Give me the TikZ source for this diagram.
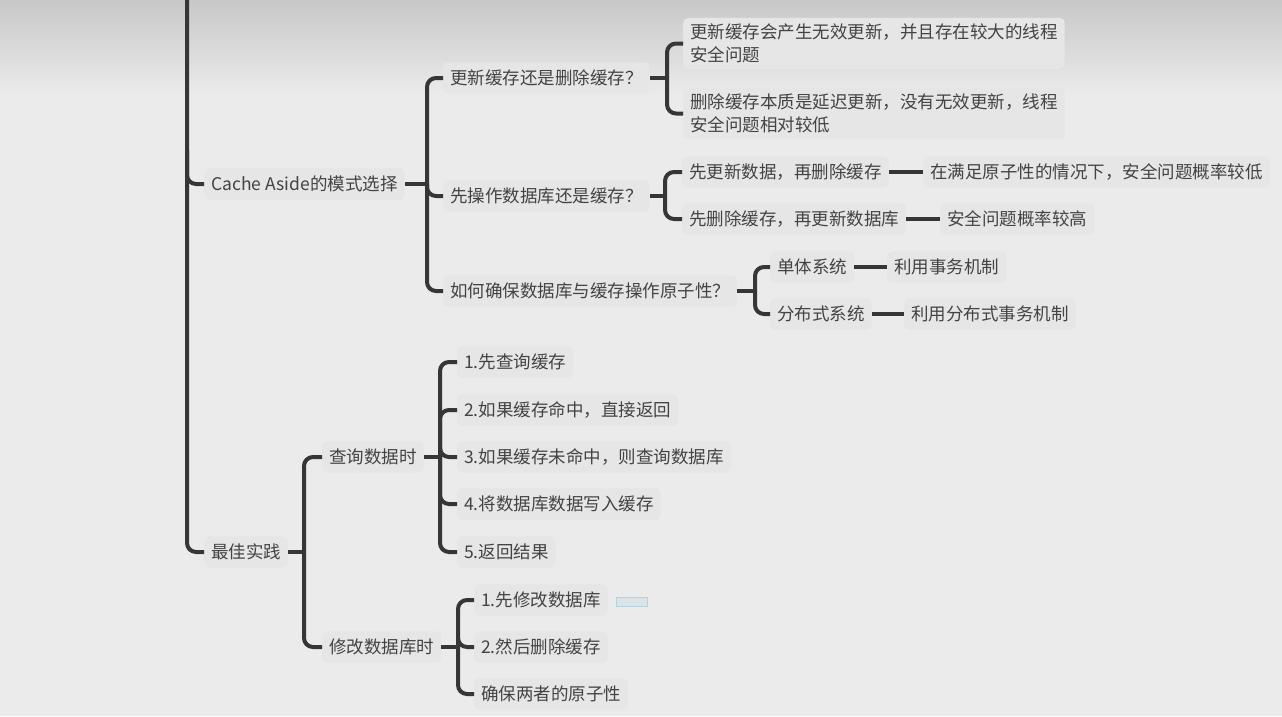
\documentclass[tikz,border=0pt]{standalone}
\usepackage{fontspec}
\setmainfont{Noto Sans CJK SC}
\usetikzlibrary{calc}

\definecolor{bgc}{HTML}{EBEBEB}
\definecolor{topc}{HTML}{C8C8C8}
\definecolor{boxc}{HTML}{E6E6E6}
\definecolor{inkc}{HTML}{434343}
\definecolor{linec}{HTML}{363636}
\definecolor{markc}{HTML}{B7D2DF}

\tikzset{
  topic/.style={anchor=west, fill=boxc, rounded corners=5pt,
    inner xsep=7pt, inner ysep=8pt, text=inkc,
    font=\fontsize{17.5}{23}\selectfont,
    text height=14.3pt, text depth=1pt},
  multi/.style={anchor=west, fill=boxc, rounded corners=5pt,
    inner xsep=7pt, inner ysep=6pt, text=inkc, align=left,
    font=\fontsize{17.5}{23}\selectfont},
  link/.style={draw=linec, line width=4pt, rounded corners=9pt},
}

\begin{document}
\begin{tikzpicture}[x=1pt,y=-1pt]
  % canvas
  \useasboundingbox (0,0) rectangle (1282,716);
  \fill[bgc] (0,0) rectangle (1282,716);
  \shade[top color=topc, bottom color=bgc] (0,0) rectangle (1282,95);

  % main branches
  \node[topic] (ca) at (204,184) {Cache Aside的模式选择};
  \node[topic] (bp) at (204,552) {最佳实践};

  % Cache Aside branch
  \node[topic] (q1) at (443,78)  {更新缓存还是删除缓存？};
  \node[topic] (q2) at (443,196) {先操作数据库还是缓存？};
  \node[topic] (q3) at (443,291) {如何确保数据库与缓存操作原子性？};

  \node[multi] (a1) at (683,43.5)  {更新缓存会产生无效更新，并且存在较大的线程\\安全问题};
  \node[multi] (a2) at (683,113.5) {删除缓存本质是延迟更新，没有无效更新，线程\\安全问题相对较低};

  \node[topic] (b1)  at (682,172) {先更新数据，再删除缓存};
  \node[topic] (b1r) at (923,172) {在满足原子性的情况下，安全问题概率较低};
  \node[topic] (b2)  at (682,219) {先删除缓存，再更新数据库};
  \node[topic] (b2r) at (940,219) {安全问题概率较高};

  \node[topic] (c1)  at (770,267) {单体系统};
  \node[topic] (c1r) at (887,267) {利用事务机制};
  \node[topic] (c2)  at (770,314) {分布式系统};
  \node[topic] (c2r) at (904,314) {利用分布式事务机制};

  % best practice branch
  \node[topic] (qd) at (322,457) {查询数据时};
  \node[topic] (xg) at (322,647) {修改数据库时};

  \node[topic] (d1) at (457,362) {1.先查询缓存};
  \node[topic] (d2) at (457,410) {2.如果缓存命中，直接返回};
  \node[topic] (d3) at (457,457) {3.如果缓存未命中，则查询数据库};
  \node[topic] (d4) at (457,504) {4.将数据库数据写入缓存};
  \node[topic] (d5) at (457,552) {5.返回结果};

  \node[topic] (e1) at (474,600) {1.先修改数据库};
  \node[topic] (e2) at (474,647) {2.然后删除缓存};
  \node[topic] (e3) at (474,694) {确保两者的原子性};

  % small drop marker
  \node[draw=markc, line width=1.2pt, fill=bgc!70!markc, minimum width=31pt,
        minimum height=9pt, inner sep=0pt] (mk) at (632,602) {};

  % junction points of the brackets
  \coordinate (ttop) at (187,-10);
  \coordinate (tmid) at (187,150);
  \coordinate (jca) at (427,184);
  \coordinate (jq1) at (667,78);
  \coordinate (jq2) at (665,196);
  \coordinate (jq3) at (755,291);
  \coordinate (jbp) at (304,552);
  \coordinate (jqd) at (440,457);
  \coordinate (jxg) at (458,647);

  % trunk
  \draw[link] (ttop) |- (bp.west);
  \draw[link] (tmid) |- (ca.west);

  % Cache Aside brackets
  \draw[link] (ca.east) -- (jca);
  \foreach \c in {q1,q2,q3} \draw[link] (jca) |- (\c.west);

  \draw[link] (q1.east) -- (jq1);
  \foreach \c in {a1,a2} \draw[link] (jq1) |- (\c.west);

  \draw[link] (q2.east) -- (jq2);
  \foreach \c in {b1,b2} \draw[link] (jq2) |- (\c.west);
  \draw[link] (b1.east) -- (b1r.west);
  \draw[link] (b2.east) -- (b2r.west);

  \draw[link] (q3.east) -- (jq3);
  \foreach \c in {c1,c2} \draw[link] (jq3) |- (\c.west);
  \draw[link] (c1.east) -- (c1r.west);
  \draw[link] (c2.east) -- (c2r.west);

  % best practice brackets
  \draw[link] (bp.east) -- (jbp);
  \foreach \c in {qd,xg} \draw[link] (jbp) |- (\c.west);

  \draw[link] (qd.east) -- (jqd);
  \foreach \c in {d1,d2,d3,d4,d5} \draw[link] (jqd) |- (\c.west);

  \draw[link] (xg.east) -- (jxg);
  \foreach \c in {e1,e2,e3} \draw[link] (jxg) |- (\c.west);
\end{tikzpicture}
\end{document}
